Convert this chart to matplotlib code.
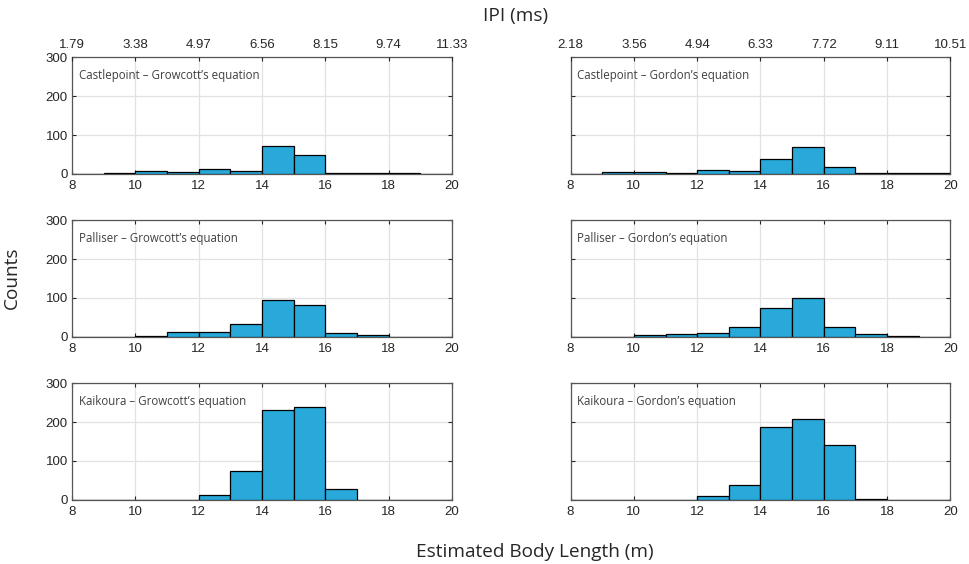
import numpy as np
import matplotlib
matplotlib.use("Agg")
import matplotlib.pyplot as plt

# bin edges in metres, 1 m wide
edges = np.arange(8, 21, 1)

# counts per 1 m bin (8-9, 9-10, ..., 19-20)
castle_growcott = [0, 2.5, 8, 4, 12, 8.5, 71, 48.5, 2, 2, 2, 0]
castle_gordon = [0, 4, 6, 2.5, 11, 8.5, 37.5, 69, 18, 2.5, 2.5, 1.5]
palliser_growcott = [0, 0, 3.5, 12, 12, 34, 96, 82, 10, 4, 0, 0]
palliser_gordon = [0, 0, 5, 8.5, 10, 26.5, 74, 99, 25, 7, 1.5, 0]
kaikoura_growcott = [0, 0, 0, 0, 14, 74, 232, 239, 29, 0, 0, 0]
kaikoura_gordon = [0, 0, 0, 0, 9.5, 39.5, 187, 207, 140, 3.5, 0, 0]

length_ticks = [8, 10, 12, 14, 16, 18, 20]
ipi_growcott = ["1.79", "3.38", "4.97", "6.56", "8.15", "9.74", "11.33"]
ipi_gordon = ["2.18", "3.56", "4.94", "6.33", "7.72", "9.11", "10.51"]

panels = [
    ("Castlepoint \u2013 Growcott\u2019s equation", castle_growcott),
    ("Castlepoint \u2013 Gordon\u2019s equation", castle_gordon),
    ("Palliser \u2013 Growcott\u2019s equation", palliser_growcott),
    ("Palliser \u2013 Gordon\u2019s equation", palliser_gordon),
    ("Kaikoura \u2013 Growcott\u2019s equation", kaikoura_growcott),
    ("Kaikoura \u2013 Gordon\u2019s equation", kaikoura_gordon),
]

bar_color = "#28a9da"
spine_color = "#262626"
grid_color = "#e2e2e2"
tick_font = "Liberation Sans"
label_font = "Open Sans"

fig = plt.figure(figsize=(9.69, 5.64), dpi=100)

lefts = [0.0743, 0.5888]
bottoms = [0.6915, 0.4025, 0.1135]
w, h = 0.392, 0.2074

for i, (name, counts) in enumerate(panels):
    row, col = divmod(i, 2)
    ax = fig.add_axes([lefts[col], bottoms[row], w, h])
    ax.hist(edges[:-1], bins=edges, weights=counts, color=bar_color,
            edgecolor="black", linewidth=0.9, zorder=3)
    ax.set_xlim(8, 20)
    ax.set_ylim(0, 300)
    ax.set_xticks(length_ticks)
    ax.set_yticks([0, 100, 200, 300])
    ax.grid(True, color=grid_color, linewidth=0.9, zorder=0)
    ax.set_axisbelow(True)
    ax.tick_params(direction="in", length=3, width=0.8, colors=spine_color,
                   top=True, right=True, labelsize=9.5)
    ax.tick_params(axis="x", pad=4)
    ax.tick_params(axis="y", pad=3)
    for lab in ax.get_xticklabels() + ax.get_yticklabels():
        lab.set_family(tick_font)
    if col == 1:
        ax.set_yticklabels([])
    for s in ax.spines.values():
        s.set_color("#555555")
        s.set_linewidth(0.9)
    ax.text(0.018, 0.845, name, transform=ax.transAxes, fontsize=8.3,
            family=label_font, color="#404040", va="center", ha="left")

    if row == 0:
        top = ax.twiny()
        top.set_xlim(8, 20)
        top.set_xticks(length_ticks)
        top.set_xticklabels(ipi_growcott if col == 0 else ipi_gordon,
                            family=tick_font)
        top.tick_params(direction="in", length=3, width=0.8,
                        colors=spine_color, labelsize=9.5, pad=4)
        for s in top.spines.values():
            s.set_visible(False)

fig.text(0.532, 0.971, "IPI (ms)", ha="center", va="center",
         fontsize=13.7, family=label_font, color="#262626")
fig.text(0.552, 0.022, "Estimated Body Length (m)", ha="center",
         va="center", fontsize=13.7, family=label_font, color="#262626")
fig.text(0.0125, 0.508, "Counts", ha="center", va="center", rotation=90,
         fontsize=13.7, family=label_font, color="#262626")

fig.savefig("out.png", dpi=100)
